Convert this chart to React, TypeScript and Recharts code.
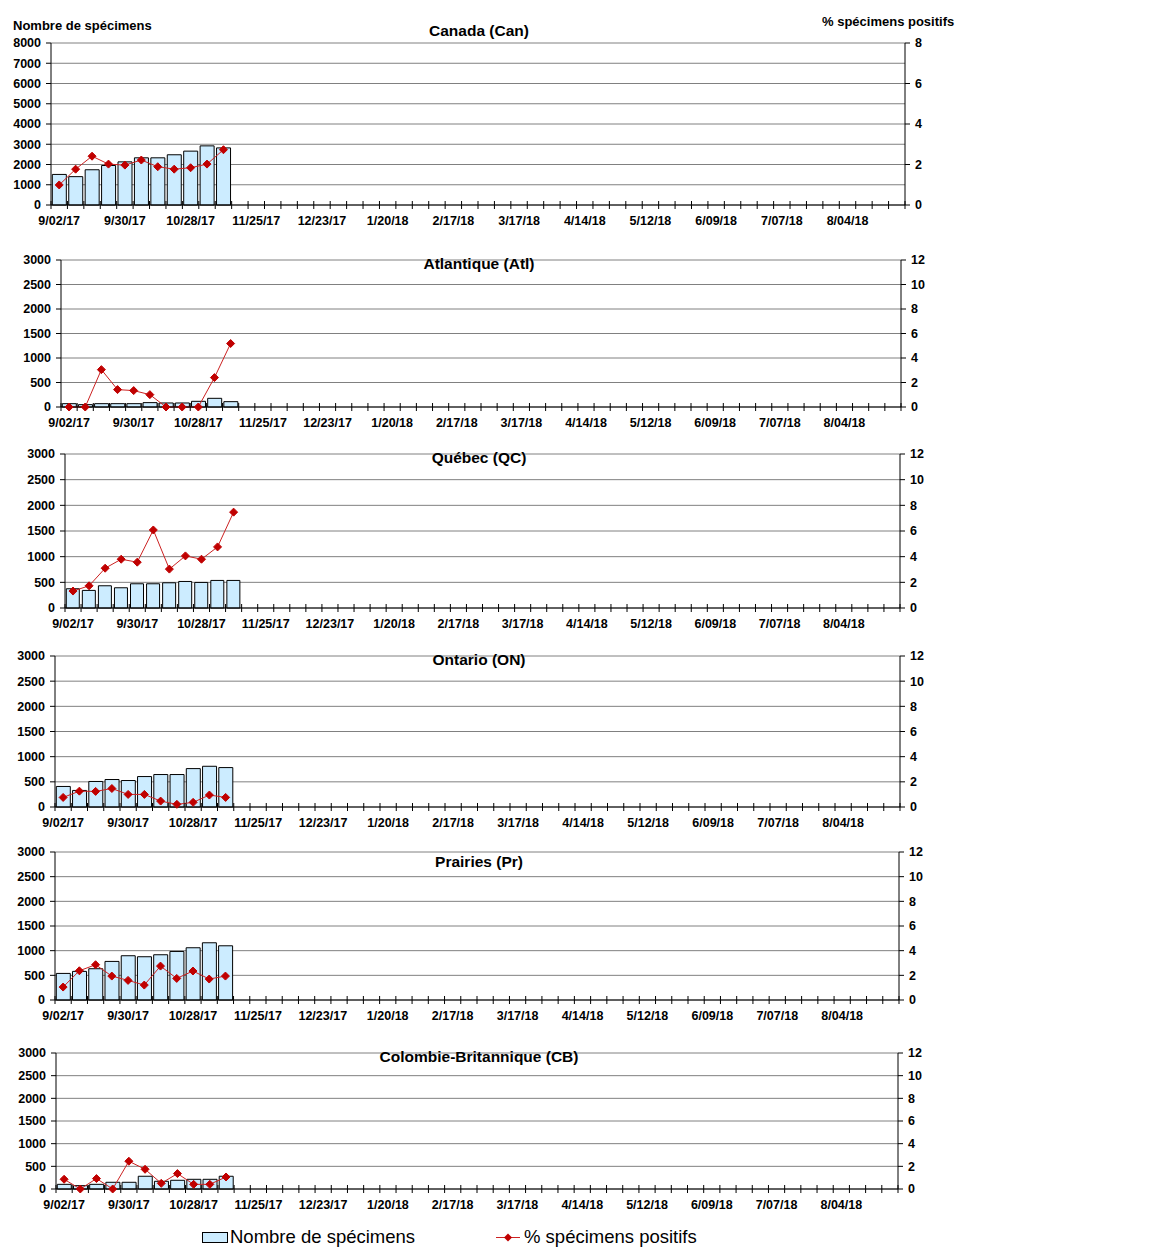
import React from 'react';
import { ComposedChart, Bar, Line, XAxis, YAxis, CartesianGrid } from 'recharts';

// weekly categories, 2017-18 season
const weeks = [
  '9/02/17', '9/09/17', '9/16/17', '9/23/17', '9/30/17', '10/07/17', '10/14/17', '10/21/17',
  '10/28/17', '11/04/17', '11/11/17', '11/18/17', '11/25/17', '12/02/17', '12/09/17', '12/16/17',
  '12/23/17', '12/30/17', '1/06/18', '1/13/18', '1/20/18', '1/27/18', '2/03/18', '2/10/18',
  '2/17/18', '2/24/18', '3/03/18', '3/10/18', '3/17/18', '3/24/18', '3/31/18', '4/07/18',
  '4/14/18', '4/21/18', '4/28/18', '5/05/18', '5/12/18', '5/19/18', '5/26/18', '6/02/18',
  '6/09/18', '6/16/18', '6/23/18', '6/30/18', '7/07/18', '7/14/18', '7/21/18', '7/28/18',
  '8/04/18', '8/11/18', '8/18/18', '8/25/18',
];

const canCount = [1510, 1400, 1740, 1950, 2130, 2330, 2330, 2480, 2660, 2920, 2820];
const canPct = [0.99, 1.77, 2.41, 2.02, 1.97, 2.22, 1.89, 1.77, 1.84, 2.02, 2.73];

const atlCount = [68, 48, 68, 68, 68, 89, 82, 82, 116, 177, 109];
const atlPct = [0, 0, 3.05, 1.42, 1.34, 1.01, 0, 0, 0, 2.4, 5.18];

const qcCount = [375, 343, 433, 394, 472, 472, 491, 517, 498, 537, 537];
const qcPct = [1.32, 1.73, 3.1, 3.8, 3.57, 6.08, 3.03, 4.06, 3.8, 4.76, 7.47];

const onCount = [408, 329, 507, 546, 526, 605, 645, 645, 763, 809, 783];
const onPct = [0.76, 1.26, 1.24, 1.47, 1.0, 1.0, 0.47, 0.21, 0.37, 0.95, 0.76];

const prCount = [539, 580, 634, 782, 897, 877, 917, 984, 1059, 1160, 1099];
const prPct = [1.05, 2.37, 2.86, 1.94, 1.59, 1.21, 2.75, 1.75, 2.35, 1.7, 1.94];

const cbCount = [103, 74, 103, 148, 148, 281, 170, 192, 214, 214, 281];
const cbPct = [0.86, 0, 0.92, 0, 2.45, 1.74, 0.5, 1.36, 0.41, 0.41, 1.06];

const bigLeftTicks = [0, 1000, 2000, 3000, 4000, 5000, 6000, 7000, 8000];
const bigRightTicks = [0, 2, 4, 6, 8];
const leftTicks = [0, 500, 1000, 1500, 2000, 2500, 3000];
const rightTicks = [0, 2, 4, 6, 8, 10, 12];

const FONT = '"Liberation Sans", Arial, sans-serif';
const BAR_FILL = '#CCECFF';
const RED = '#C00000';
const CHART_W = 1000;

const makeRows = (counts: number[], pcts: number[]) =>
  weeks.map((w, i) => ({
    week: w,
    count: i < counts.length ? counts[i] : null,
    pct: i < pcts.length ? pcts[i] : null,
  }));

const Diamond = (p: any) => {
  if (p.cx == null || p.cy == null || p.value == null) return <g key={p.index} />;
  const s = 4;
  return (
    <polygon
      key={p.index}
      points={`${p.cx},${p.cy - s} ${p.cx + s},${p.cy} ${p.cx},${p.cy + s} ${p.cx - s},${p.cy}`}
      fill={RED}
      stroke={RED}
    />
  );
};

function Panel(props: {
  title: string;
  counts: number[];
  pcts: number[];
  left: number;
  right: number;
  top: number;
  bottom: number;
  titleY: number;
  lTicks: number[];
  rTicks: number[];
}) {
  const { title, counts, pcts, left, right, top, bottom, titleY, lTicks, rTicks } = props;
  const half = (right - left) / weeks.length / 2;
  const mTop = 10;
  const xH = 30;
  const h = mTop + (bottom - top) + xH;

  const WeekTick = (t: any) => {
    const { x, y, payload } = t;
    const i = weeks.indexOf(payload.value);
    return (
      <g>
        <line x1={x - half} x2={x - half} y1={y - 4} y2={y + 4} stroke="#000" />
        {i === weeks.length - 1 && (
          <line x1={x + half} x2={x + half} y1={y - 4} y2={y + 4} stroke="#000" />
        )}
        {i % 4 === 0 && (
          <text x={x} y={y + 20} textAnchor="middle" fontSize={12.5} fontWeight="bold" fontFamily={FONT} fill="#000">
            {payload.value}
          </text>
        )}
      </g>
    );
  };

  const tickStyle = { fontSize: 12.5, fontWeight: 'bold', fontFamily: FONT, fill: '#000' } as any;

  return (
    <>
      <div
        style={{
          position: 'absolute',
          left: 279,
          width: 400,
          top: titleY - 10,
          height: 20,
          lineHeight: '20px',
          textAlign: 'center',
          fontFamily: FONT,
          fontWeight: 'bold',
          fontSize: 15.5,
          zIndex: 2,
        }}
      >
        {title}
      </div>
      <div style={{ position: 'absolute', left: 0, top: top - mTop }}>
        <ComposedChart
          width={CHART_W}
          height={h}
          data={makeRows(counts, pcts)}
          margin={{ top: mTop, right: 0, left: 0, bottom: 0 }}
          barCategoryGap="8%"
        >
          <CartesianGrid yAxisId="l" vertical={false} stroke="#808080" strokeWidth={1} />
          <XAxis
            dataKey="week"
            interval={0}
            height={xH}
            tickSize={0}
            tickMargin={0}
            tickLine={false}
            axisLine={{ stroke: '#000' }}
            tick={<WeekTick />}
          />
          <YAxis
            yAxisId="l"
            orientation="left"
            width={left}
            domain={[lTicks[0], lTicks[lTicks.length - 1]]}
            ticks={lTicks}
            interval={0}
            tickSize={5}
            tickMargin={5}
            axisLine={{ stroke: '#000' }}
            tickLine={{ stroke: '#000' }}
            tick={tickStyle}
          />
          <YAxis
            yAxisId="r"
            orientation="right"
            width={CHART_W - right}
            domain={[rTicks[0], rTicks[rTicks.length - 1]]}
            ticks={rTicks}
            interval={0}
            tickSize={5}
            tickMargin={5}
            axisLine={{ stroke: '#000' }}
            tickLine={{ stroke: '#000' }}
            tick={tickStyle}
          />
          <Bar yAxisId="l" dataKey="count" fill={BAR_FILL} stroke="#000" strokeWidth={1} isAnimationActive={false} />
          <Line
            yAxisId="r"
            dataKey="pct"
            stroke="#CC2222"
            strokeWidth={1}
            dot={Diamond}
            activeDot={false}
            connectNulls={false}
            isAnimationActive={false}
          />
        </ComposedChart>
      </div>
    </>
  );
}

export default function App() {
  return (
    <div
      style={{
        position: 'absolute',
        left: 0,
        top: 0,
        width: 1152,
        height: 1260,
        background: '#fff',
        fontFamily: FONT,
        overflow: 'hidden',
      }}
    >
      <div style={{ position: 'absolute', left: 13, top: 18, fontSize: 13, fontWeight: 'bold' }}>
        Nombre de spécimens
      </div>
      <div style={{ position: 'absolute', left: 822, top: 14, fontSize: 13, fontWeight: 'bold' }}>
        % spécimens positifs
      </div>

      <Panel title="Canada (Can)" counts={canCount} pcts={canPct} left={51} right={905} top={43} bottom={205} titleY={31} lTicks={bigLeftTicks} rTicks={bigRightTicks} />
      <Panel title="Atlantique (Atl)" counts={atlCount} pcts={atlPct} left={61} right={901} top={260} bottom={407} titleY={264} lTicks={leftTicks} rTicks={rightTicks} />
      <Panel title="Québec (QC)" counts={qcCount} pcts={qcPct} left={65} right={900} top={454} bottom={608} titleY={458} lTicks={leftTicks} rTicks={rightTicks} />
      <Panel title="Ontario (ON)" counts={onCount} pcts={onPct} left={55} right={900} top={656} bottom={807} titleY={660} lTicks={leftTicks} rTicks={rightTicks} />
      <Panel title="Prairies (Pr)" counts={prCount} pcts={prPct} left={55} right={899} top={852} bottom={1000} titleY={862} lTicks={leftTicks} rTicks={rightTicks} />
      <Panel title="Colombie-Britannique (CB)" counts={cbCount} pcts={cbPct} left={56} right={898} top={1053} bottom={1189} titleY={1057} lTicks={leftTicks} rTicks={rightTicks} />

      {/* legend */}
      <svg style={{ position: 'absolute', left: 200, top: 1228 }} width={30} height={18}>
        <rect x={2.5} y={4.5} width={25} height={10} fill={BAR_FILL} stroke="#000" />
      </svg>
      <div style={{ position: 'absolute', left: 230, top: 1226, fontSize: 18.5, lineHeight: '22px' }}>
        Nombre de spécimens
      </div>
      <svg style={{ position: 'absolute', left: 494, top: 1228 }} width={30} height={18}>
        <line x1={2} x2={26} y1={9.5} y2={9.5} stroke="#CC2222" />
        <polygon points="14,5.5 18,9.5 14,13.5 10,9.5" fill={RED} />
      </svg>
      <div style={{ position: 'absolute', left: 524, top: 1226, fontSize: 18.5, lineHeight: '22px' }}>
        % spécimens positifs
      </div>
    </div>
  );
}
